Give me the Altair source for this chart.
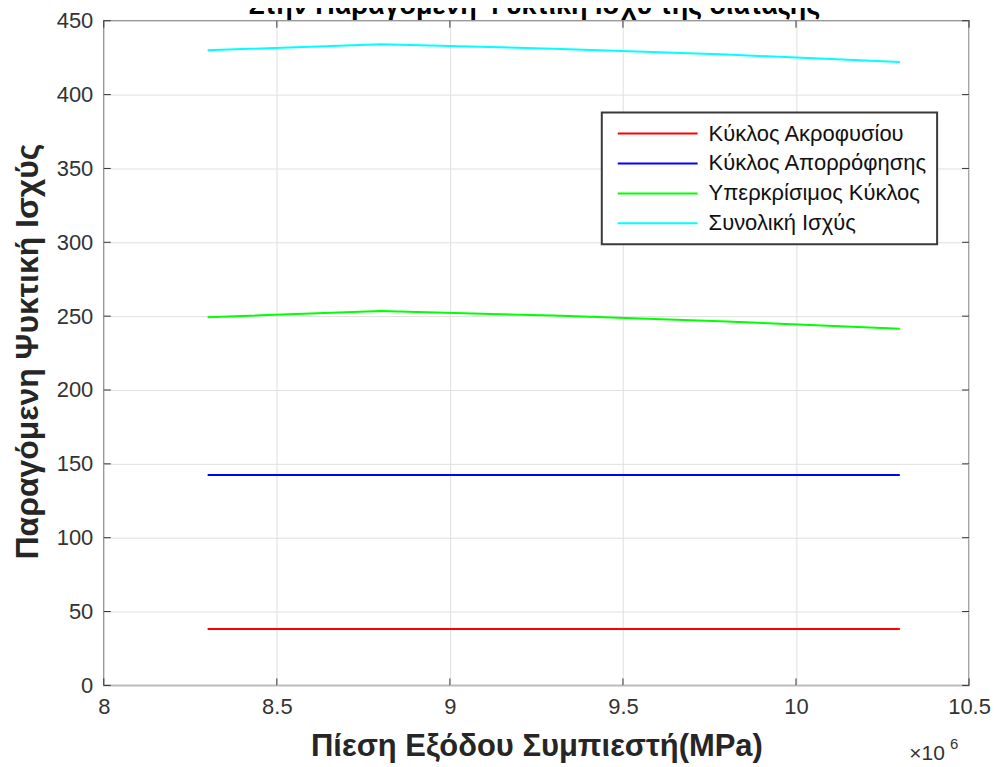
import altair as alt
import pandas as pd

# ---------------- data ----------------
pressure_pa = [8.3e6, 8.8e6, 9.3e6, 9.8e6, 10.3e6]
series_names = ["Κύκλος Ακροφυσίου", "Κύκλος Απορρόφησης", "Υπερκρίσιμος Κύκλος", "Συνολική Ισχύς"]
ejector_cycle = [38.2, 38.2, 38.2, 38.2, 38.2]
absorption_cycle = [142.5, 142.5, 142.5, 142.5, 142.5]
supercritical_cycle = [249.3, 253.4, 250.4, 246.4, 241.4]
total_power = [430.0, 434.1, 431.1, 427.1, 422.1]
series_colors = ["#FF0000", "#0000FF", "#00FF00", "#00FFFF"]
x_ticks = [8.0e6, 8.5e6, 9.0e6, 9.5e6, 10.0e6, 10.5e6]
y_ticks = [0, 50, 100, 150, 200, 250, 300, 350, 400, 450]
title_text = "Στην Παραγόμενη Ψυκτική Ισχύ της διάταξης"
x_title = "Πίεση Εξόδου Συμπιεστή(MPa)"
y_title = "Παραγόμενη Ψυκτική Ισχύς"
exp_base = "×10"
exp_power = "6"

# ---------------- layout ----------------
W, H = 867, 666
PAD = {"left": 96, "top": 12, "right": 24, "bottom": 81}
FONT = "Liberation Sans"
TICK = 7

rows = []
for name, vals in zip(series_names, [ejector_cycle, absorption_cycle, supercritical_cycle, total_power]):
    for p, v in zip(pressure_pa, vals):
        rows.append({"series": name, "p": p, "power": v})
df = pd.DataFrame(rows)

xscale = alt.Scale(domain=[x_ticks[0], x_ticks[-1]], nice=False, zero=False)
yscale = alt.Scale(domain=[y_ticks[0], y_ticks[-1]], nice=False, zero=False)

lines = alt.Chart(df).mark_line(strokeWidth=2, clip=True).encode(
    x=alt.X("p:Q", scale=xscale,
            axis=alt.Axis(values=x_ticks, labelExpr="format(datum.value/1e6, '')",
                          title=x_title, ticks=False, domain=False, labelFlush=False,
                          labelPadding=11, labelFontSize=22, labelFont=FONT, labelColor="#333333",
                          titleFont=FONT, titleFontSize=31, titleFontWeight="bold", titleColor="#262626",
                          titleY=61, titleBaseline="middle",
                          grid=True, gridColor="#e0e0e0", gridWidth=1)),
    y=alt.Y("power:Q", scale=yscale,
            axis=alt.Axis(values=y_ticks, title=y_title, ticks=False, domain=False, labelFlush=False,
                          labelPadding=11, labelFontSize=22, labelFont=FONT, labelColor="#333333",
                          titleFont=FONT, titleFontSize=32, titleFontWeight="bold", titleColor="#262626",
                          titleX=-76, titleY=H / 2 - 2, titleBaseline="middle", titleAlign="center",
                          grid=True, gridColor="#e0e0e0", gridWidth=1)),
    color=alt.Color("series:N",
                    scale=alt.Scale(domain=series_names, range=series_colors),
                    legend=alt.Legend(title=None, orient="none", legendX=499, legendY=92,
                                      symbolType="stroke", symbolSize=6400, symbolStrokeWidth=2,
                                      symbolOffset=6,
                                      labelFont=FONT, labelFontSize=22, labelColor="#111111",
                                      labelLimit=600,
                                      labelOffset=10, padding=9, rowPadding=6, clipHeight=24,
                                      fillColor="white", strokeColor="#3a3a3a")),
    order=alt.Order("p:Q"),
)

xt = pd.DataFrame({"v": x_ticks})
yt = pd.DataFrame({"v": y_ticks})
tick_style = dict(color="#333333", strokeWidth=1)
bottom_ticks = alt.Chart(xt).mark_rule(**tick_style).encode(
    x=alt.X("v:Q", scale=xscale), y=alt.value(H), y2=alt.value(H - TICK))
top_ticks = alt.Chart(xt).mark_rule(**tick_style).encode(
    x=alt.X("v:Q", scale=xscale), y=alt.value(0), y2=alt.value(TICK))
left_ticks = alt.Chart(yt).mark_rule(**tick_style).encode(
    y=alt.Y("v:Q", scale=yscale), x=alt.value(0), x2=alt.value(TICK))
right_ticks = alt.Chart(yt).mark_rule(**tick_style).encode(
    y=alt.Y("v:Q", scale=yscale), x=alt.value(W), x2=alt.value(W - TICK))

title_mark = alt.Chart(pd.DataFrame({"t": [title_text]})).mark_text(
    font=FONT, fontSize=27, fontWeight="bold", color="#000000",
    align="center", baseline="alphabetic").encode(
    text="t:N", x=alt.value(W / 2 - 2), y=alt.value(-7))

exp1 = alt.Chart(pd.DataFrame({"t": [exp_base]})).mark_text(
    font=FONT, fontSize=21, color="#333333", align="center", baseline="alphabetic").encode(
    text="t:N", x=alt.value(825), y=alt.value(741))
exp2 = alt.Chart(pd.DataFrame({"t": [exp_power]})).mark_text(
    font=FONT, fontSize=15, color="#333333", align="center", baseline="alphabetic").encode(
    text="t:N", x=alt.value(852), y=alt.value(730))

chart = alt.layer(lines, bottom_ticks, top_ticks, left_ticks, right_ticks,
                  title_mark, exp1, exp2).properties(
    width=W, height=H,
    autosize=alt.AutoSizeParams(type="none"),
    padding=PAD,
    background="white",
).configure_view(stroke="#808080", strokeWidth=1.5).configure_legend(strokeWidth=2)

chart.save("out.html", embed_options={"renderer": "svg", "actions": False})
